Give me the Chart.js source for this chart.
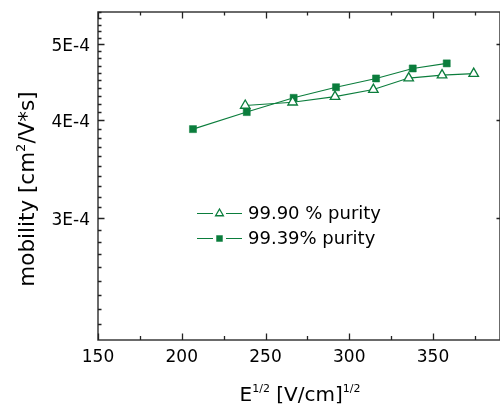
<!DOCTYPE html>
<html lang="en">
<head>
    <meta charset="UTF-8">
    <title>Mobility vs field</title>
    <script src="https://cdn.jsdelivr.net/npm/chart.js"></script>
    <style>
        body {
            margin: 0;
            padding: 0;
            background-color: #fff;
        }
        #wrap {
            width: 500px;
            height: 408px;
        }
    </style>
</head>
<body>
<div id="wrap">
    <canvas id="mobChart" width="500" height="408"></canvas>
</div>
<script>
    // values
    const seriesNames = ['99.90 % purity', '99.39% purity'];

    const fieldA = [237.9, 266.2, 291.5, 314.4, 335.5, 355.4, 374.3];
    const mobA = [4.18e-4, 4.22e-4, 4.29e-4, 4.38e-4, 4.53e-4, 4.57e-4, 4.59e-4];

    const fieldB = [206.7, 238.8, 266.8, 292.1, 316.0, 337.9, 358.2];
    const mobB = [3.90e-4, 4.10e-4, 4.275e-4, 4.41e-4, 4.525e-4, 4.66e-4, 4.73e-4];

    const xMajorTicks = [150, 200, 250, 300, 350];
    const xMinorTicks = [175, 225, 275, 325, 375];
    const yLabelTicks = [3e-4, 4e-4, 5e-4];
    const yTickText = ['3E-4', '4E-4', '5E-4'];

    // minor ticks every 1E-5 on the log axis
    const yMinorTicks = [];
    for (let k = 22; k <= 55; k++) {
        if (k % 10 !== 0) yMinorTicks.push(k * 1e-5);
    }

    const green = '#0b7d3c';
    const fontFam = '"DejaVu Sans", sans-serif';

    const toPts = (xs, ys) => xs.map((x, i) => ({ x: x, y: ys[i] }));

    // no extra label padding around the plot box
    const noPad = (scale) => {
        scale.paddingTop = 0;
        scale.paddingBottom = 0;
        scale.paddingLeft = 0;
        scale.paddingRight = 0;
    };

    // frame, inward ticks, titles and legend
    const decor = {
        id: 'decor',
        beforeDatasetsDraw(chart) {
            const ctx = chart.ctx;
            const a = chart.chartArea;
            const xs = chart.scales.x;
            const ys = chart.scales.y;

            ctx.save();
            ctx.strokeStyle = '#3a3a3a';
            ctx.lineWidth = 1.5;
            ctx.strokeRect(a.left, a.top, a.right - a.left, a.bottom - a.top);

            ctx.lineWidth = 1.3;
            ctx.strokeStyle = '#222';
            ctx.beginPath();
            xMajorTicks.forEach(v => {
                const px = Math.round(xs.getPixelForValue(v)) + 0.5;
                ctx.moveTo(px, a.bottom); ctx.lineTo(px, a.bottom - 6.5);
                ctx.moveTo(px, a.top); ctx.lineTo(px, a.top + 6.5);
            });
            xMinorTicks.forEach(v => {
                const px = Math.round(xs.getPixelForValue(v)) + 0.5;
                ctx.moveTo(px, a.bottom); ctx.lineTo(px, a.bottom - 4);
                ctx.moveTo(px, a.top); ctx.lineTo(px, a.top + 3.5);
            });
            yLabelTicks.forEach(v => {
                const py = Math.round(ys.getPixelForValue(v)) + 0.5;
                ctx.moveTo(a.left, py); ctx.lineTo(a.left + 6.5, py);
                ctx.moveTo(a.right, py); ctx.lineTo(a.right - 3.5, py);
            });
            yMinorTicks.forEach(v => {
                const py = Math.round(ys.getPixelForValue(v)) + 0.5;
                ctx.moveTo(a.left, py); ctx.lineTo(a.left + 3.5, py);
            });
            ctx.stroke();

            ctx.fillStyle = '#000';
            ctx.textBaseline = 'alphabetic';

            // y title, rotated
            ctx.save();
            ctx.translate(34, 189);
            ctx.rotate(-Math.PI / 2);
            const yParts = [['mobility [cm', 21.5, 0], ['2', 13, -9], ['/V*s]', 21.5, 0]];
            let w = 0;
            yParts.forEach(p => { ctx.font = p[1] + 'px ' + fontFam; w += ctx.measureText(p[0]).width; });
            let cx = -w / 2;
            yParts.forEach(p => {
                ctx.font = p[1] + 'px ' + fontFam;
                ctx.fillText(p[0], cx, p[2]);
                cx += ctx.measureText(p[0]).width;
            });
            ctx.restore();

            // x title
            const xParts = [['E', 20, 0], ['1/2', 11, -9], [' [V/cm]', 20, 0], ['1/2', 11, -9]];
            w = 0;
            xParts.forEach(p => { ctx.font = p[1] + 'px ' + fontFam; w += ctx.measureText(p[0]).width; });
            cx = 300 - w / 2;
            xParts.forEach(p => {
                ctx.font = p[1] + 'px ' + fontFam;
                ctx.fillText(p[0], cx, 401 + p[2]);
                cx += ctx.measureText(p[0]).width;
            });

            // legend
            const rows = [
                { y: 213.5, style: 'triangle', fill: '#fff' },
                { y: 238.5, style: 'rect', fill: green }
            ];
            rows.forEach((r, i) => {
                ctx.strokeStyle = green;
                ctx.lineWidth = 1;
                ctx.beginPath();
                ctx.moveTo(197, r.y); ctx.lineTo(213, r.y);
                ctx.moveTo(226, r.y); ctx.lineTo(242, r.y);
                ctx.stroke();
                ctx.fillStyle = r.fill;
                ctx.lineWidth = r.style === 'rect' ? 0.5 : 1.3;
                Chart.helpers.drawPoint(ctx, {
                    pointStyle: r.style, radius: r.style === 'rect' ? 4.2 : 4.5, rotation: 0,
                    borderWidth: ctx.lineWidth
                }, 219.5, r.y);
                ctx.fillStyle = '#000';
                ctx.font = '18px ' + fontFam;
                ctx.textBaseline = 'middle';
                ctx.fillText(seriesNames[i], 248, r.y + 1);
            });
            ctx.restore();
        }
    };

    const ctx = document.getElementById('mobChart').getContext('2d');
    const mobChart = new Chart(ctx, {
        type: 'line',
        data: {
            datasets: [{
                label: seriesNames[0],
                data: toPts(fieldA, mobA),
                borderColor: green,
                borderWidth: 1.1,
                pointStyle: 'triangle',
                pointRadius: 5.5,
                pointBackgroundColor: '#fff',
                pointBorderColor: green,
                pointBorderWidth: 1.3,
                tension: 0
            }, {
                label: seriesNames[1],
                data: toPts(fieldB, mobB),
                borderColor: green,
                borderWidth: 1.1,
                pointStyle: 'rect',
                pointRadius: 5,
                pointBackgroundColor: green,
                pointBorderColor: green,
                pointBorderWidth: 0.5,
                tension: 0
            }]
        },
        options: {
            responsive: false,
            animation: false,
            devicePixelRatio: 1,
            layout: { autoPadding: false, padding: { top: 12, right: 0, left: 0, bottom: 0 } },
            plugins: {
                legend: { display: false },
                tooltip: { enabled: false }
            },
            scales: {
                x: {
                    type: 'linear',
                    min: 150,
                    max: 390,
                    grid: { display: false, drawTicks: false },
                    border: { display: false },
                    afterBuildTicks: (scale) => {
                        scale.ticks = xMajorTicks.map(v => ({ value: v }));
                    },
                    afterFit: (scale) => { scale.height = 68; noPad(scale); },
                    ticks: {
                        padding: 7,
                        color: '#000',
                        font: { family: fontFam, size: 17 },
                        maxRotation: 0
                    }
                },
                y: {
                    type: 'logarithmic',
                    min: 2.1e-4,
                    max: 5.5e-4,
                    grid: { display: false, drawTicks: false },
                    border: { display: false },
                    afterBuildTicks: (scale) => {
                        scale.ticks = yLabelTicks.map(v => ({ value: v }));
                    },
                    afterFit: (scale) => { scale.width = 98; noPad(scale); },
                    ticks: {
                        padding: 8,
                        labelOffset: 2,
                        color: '#000',
                        font: { family: fontFam, size: 17 },
                        callback: (v) => {
                            const i = yLabelTicks.findIndex(t => Math.abs(t - v) < 1e-9);
                            return i >= 0 ? yTickText[i] : '';
                        }
                    }
                }
            }
        },
        plugins: [decor]
    });
</script>
</body>
</html>
